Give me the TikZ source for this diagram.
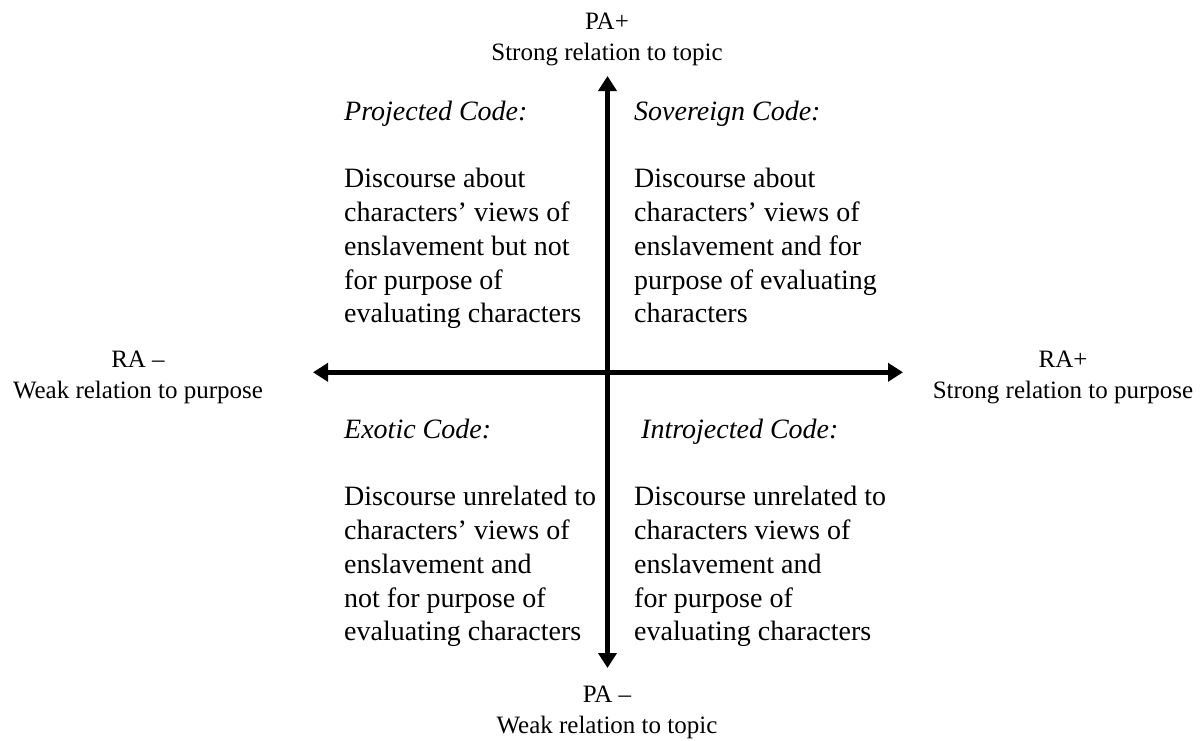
\documentclass[tikz,border=0pt]{standalone}
\usepackage{fontspec}
\setmainfont{Liberation Serif}
\usetikzlibrary{arrows.meta}

\tikzset{
  axis/.style={line width=4.6pt, {Triangle[length=15pt,width=18pt]}-{Triangle[length=15pt,width=18pt]}},
  axislabel/.style={inner sep=0pt, anchor=base, font=\fontsize{25}{31}\selectfont},
  quadrant/.style={inner sep=0pt, anchor=base west, font=\fontsize{28}{33.8}\selectfont},
}

\begin{document}
\begin{tikzpicture}[x=1pt,y=-1pt]
  \useasboundingbox (0,0) rectangle (1203,740);

  % axis end points
  \coordinate (west)  at (313,372.3);
  \coordinate (east)  at (903,372.3);
  \coordinate (north) at (607.5,76);
  \coordinate (south) at (607.5,668);

  \draw[axis] (west) -- (east);
  \draw[axis] (south) -- (north);

  % axis labels
  \node[axislabel] (paplus) at (607,29)
    {\begin{tabular}[t]{@{}c@{}}PA+\\Strong relation to topic\end{tabular}};
  \node[axislabel] (paminus) at (607,702)
    {\begin{tabular}[t]{@{}c@{}}PA \textendash\\Weak relation to topic\end{tabular}};
  \node[axislabel] (raminus) at (138,367)
    {\begin{tabular}[t]{@{}c@{}}RA \textendash\\Weak relation to purpose\end{tabular}};
  \node[axislabel] (raplus) at (1063,367)
    {\begin{tabular}[t]{@{}c@{}}RA+\\Strong relation to purpose\end{tabular}};

  % quadrant descriptions
  \node[quadrant] (projected) at (344,120)
    {\begin{tabular}[t]{@{}l@{}}\textit{Projected Code:}\\[0pt] \\
      Discourse about\\characters’ views of\\enslavement but not\\for purpose of\\evaluating characters\end{tabular}};
  \node[quadrant] (sovereign) at (634,120)
    {\begin{tabular}[t]{@{}l@{}}\textit{Sovereign Code:}\\[0pt] \\
      Discourse about\\characters’ views of\\enslavement and for\\purpose of evaluating\\characters\end{tabular}};
  \node[quadrant] (exotic) at (344,438)
    {\begin{tabular}[t]{@{}l@{}}\textit{Exotic Code:}\\[0pt] \\
      Discourse unrelated to\\characters’ views of\\enslavement and\\not for purpose of\\evaluating characters\end{tabular}};
  \node[quadrant] (introjected) at (634,438)
    {\begin{tabular}[t]{@{}l@{}}\hspace*{7pt}\textit{Introjected Code:}\\[0pt] \\
      Discourse unrelated to\\characters views of\\enslavement and\\for purpose of\\evaluating characters\end{tabular}};
\end{tikzpicture}
\end{document}
